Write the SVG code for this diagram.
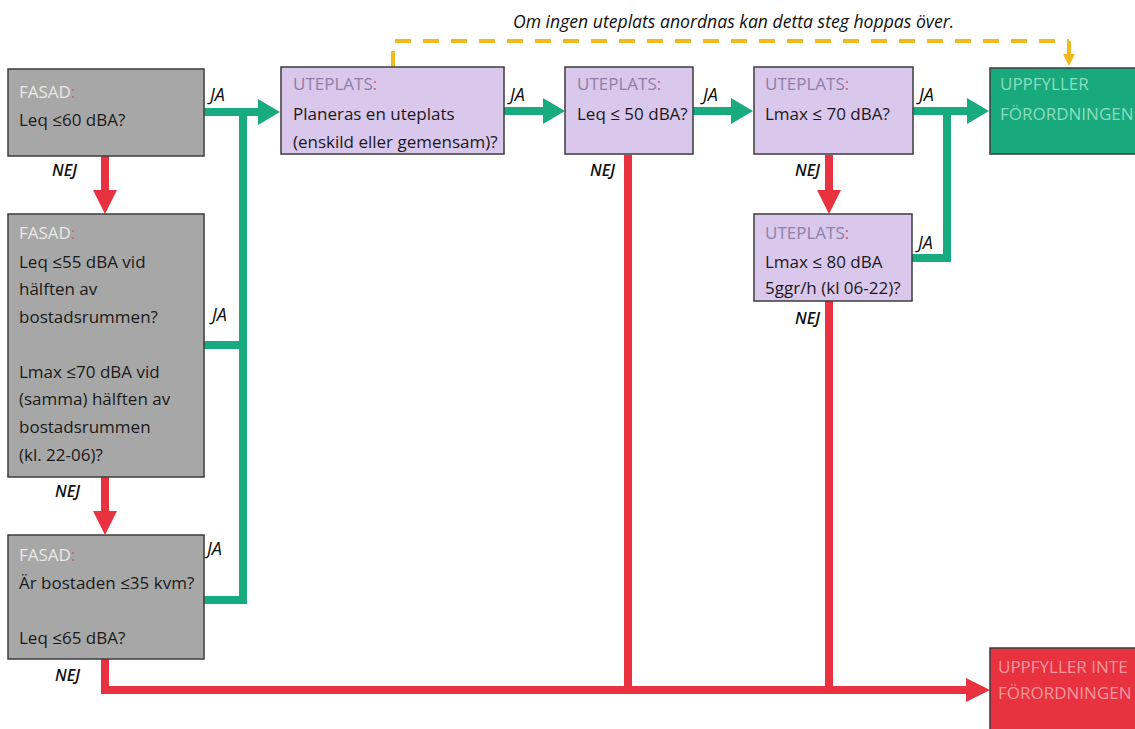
<svg xmlns="http://www.w3.org/2000/svg" width="1135" height="729" viewBox="0 0 1135 729">
<style>
  .t { font-family: "Open Sans", "Noto Sans", sans-serif; font-size: 17px; fill: #1a1a1a; }
  .fas { fill: #a7a7a7; stroke: #3c3c3c; stroke-width: 1.5; }
  .ute { fill: #dac7ec; stroke: #3c3c3c; stroke-width: 1.5; }
  .ok { fill: #18a97d; stroke: #3c3c3c; stroke-width: 1.5; }
  .bad { fill: #e8323f; stroke: #3c3c3c; stroke-width: 1.5; }
  .hf { fill: #e8e8e8; }
  .hu { fill: #8e80a8; }
  .col { fill: #d8586e; }
  .okt { fill: #8bdcbd; }
  .badt { fill: #f4979d; }
  .lab { font-family: "Open Sans", "Noto Sans", sans-serif; font-size: 18px; font-style: italic; fill: #111; }
  .nej { font-size: 16px; font-weight: 600; }
  .note { font-size: 17.6px; }
  .g { fill: none; stroke: #18ab80; stroke-width: 8; }
  .r { fill: none; stroke: #e8323f; stroke-width: 8; }
  .y { fill: none; stroke: #f2b81d; stroke-width: 4; }
</style>
<defs>
  <marker id="ga" viewBox="0 0 22 26" refX="0" refY="13" markerWidth="22" markerHeight="26" markerUnits="userSpaceOnUse" orient="auto">
    <path d="M0,0 L22,13 L0,26 z" fill="#18ab80"/>
  </marker>
  <marker id="ra" viewBox="0 0 24 24" refX="0" refY="12" markerWidth="24" markerHeight="24" markerUnits="userSpaceOnUse" orient="auto">
    <path d="M0,0 L24,12 L0,24 z" fill="#e8323f"/>
  </marker>
  <marker id="ya" viewBox="0 0 12 12" refX="0" refY="6" markerWidth="12" markerHeight="12" markerUnits="userSpaceOnUse" orient="auto">
    <path d="M0,0 L12,6 L0,12 z" fill="#f2b81d"/>
  </marker>
</defs>

<g id="connectors">
  <!-- yellow dashed skip -->
  <path class="y" d="M393,67 V41 H1069" stroke-dasharray="16 12"/>
  <path class="y" d="M1069,41 V54" marker-end="url(#ya)"/>
  <!-- green -->
  <path class="g" d="M204,112 H258" marker-end="url(#ga)"/>
  <path class="g" d="M243,108 V600 H204"/>
  <path class="g" d="M204,345 H247"/>
  <path class="g" d="M504,111 H543" marker-end="url(#ga)"/>
  <path class="g" d="M693,111 H731" marker-end="url(#ga)"/>
  <path class="g" d="M913,111 H967" marker-end="url(#ga)"/>
  <path class="g" d="M912,258 H947 V107"/>
  <!-- red -->
  <path class="r" d="M105,156 V190" marker-end="url(#ra)"/>
  <path class="r" d="M105,477 V511" marker-end="url(#ra)"/>
  <path class="r" d="M829,155 V190" marker-end="url(#ra)"/>
  <path class="r" d="M628,155 V690"/>
  <path class="r" d="M829,301 V690"/>
  <path class="r" d="M105,659 V690 H966" marker-end="url(#ra)"/>
  <!-- labels -->
  <text class="lab" x="210" y="101">JA</text>
  <text class="lab" x="212" y="321">JA</text>
  <text class="lab" x="207" y="555">JA</text>
  <text class="lab" x="510" y="101">JA</text>
  <text class="lab" x="703" y="101">JA</text>
  <text class="lab" x="919" y="101">JA</text>
  <text class="lab" x="918" y="249">JA</text>
  <text class="lab nej" x="52" y="176">NEJ</text>
  <text class="lab nej" x="55" y="497">NEJ</text>
  <text class="lab nej" x="55" y="681">NEJ</text>
  <text class="lab nej" x="590" y="176">NEJ</text>
  <text class="lab nej" x="795" y="176">NEJ</text>
  <text class="lab nej" x="795" y="324">NEJ</text>
  <text class="lab note" x="513" y="28">Om ingen uteplats anordnas kan detta steg hoppas över.</text>
</g>

<g id="fasad1">
  <rect class="fas" x="8" y="69" width="196" height="87"/>
  <text class="t" x="19" y="98"><tspan class="hf">FASAD</tspan><tspan class="col">:</tspan></text>
  <text class="t" x="19" y="126">Leq ≤60 dBA?</text>
</g>

<g id="fasad2">
  <rect class="fas" x="8" y="214" width="196" height="263"/>
  <text class="t" x="19" y="239"><tspan class="hf">FASAD</tspan><tspan class="col">:</tspan></text>
  <text class="t" x="19" y="268">Leq ≤55 dBA vid</text>
  <text class="t" x="19" y="295">hälften av</text>
  <text class="t" x="19" y="323">bostadsrummen?</text>
  <text class="t" x="19" y="378">Lmax ≤70 dBA vid</text>
  <text class="t" x="19" y="405">(samma) hälften av</text>
  <text class="t" x="19" y="433">bostadsrummen</text>
  <text class="t" x="19" y="461">(kl. 22-06)?</text>
</g>

<g id="fasad3">
  <rect class="fas" x="8" y="535" width="196" height="124"/>
  <text class="t" x="19" y="561"><tspan class="hf">FASAD</tspan><tspan class="col">:</tspan></text>
  <text class="t" x="19" y="589">Är bostaden ≤35 kvm?</text>
  <text class="t" x="19" y="644">Leq ≤65 dBA?</text>
</g>

<g id="uteplats1">
  <rect class="ute" x="281" y="67" width="223" height="87"/>
  <text class="t" x="293" y="90"><tspan class="hu">UTEPLATS</tspan><tspan class="col">:</tspan></text>
  <text class="t" x="293" y="120">Planeras en uteplats</text>
  <text class="t" x="293" y="148">(enskild eller gemensam)?</text>
</g>

<g id="uteplats2">
  <rect class="ute" x="565" y="67" width="128" height="87"/>
  <text class="t" x="577" y="90"><tspan class="hu">UTEPLATS</tspan><tspan class="col">:</tspan></text>
  <text class="t" x="577" y="120">Leq ≤ 50 dBA?</text>
</g>

<g id="uteplats3">
  <rect class="ute" x="754" y="67" width="159" height="87"/>
  <text class="t" x="765" y="90"><tspan class="hu">UTEPLATS</tspan><tspan class="col">:</tspan></text>
  <text class="t" x="765" y="120">Lmax ≤ 70 dBA?</text>
</g>

<g id="uteplats4">
  <rect class="ute" x="754" y="214" width="158" height="87"/>
  <text class="t" x="765" y="239"><tspan class="hu">UTEPLATS</tspan><tspan class="col">:</tspan></text>
  <text class="t" x="765" y="268">Lmax ≤ 80 dBA</text>
  <text class="t" x="765" y="294">5ggr/h (kl 06-22)?</text>
</g>

<g id="uppfyller">
  <rect class="ok" x="990" y="68" width="160" height="86"/>
  <text class="t okt" x="1000" y="90">UPPFYLLER</text>
  <text class="t okt" x="1000" y="120">FÖRORDNINGEN</text>
</g>

<g id="uppfyller-inte">
  <rect class="bad" x="990" y="648" width="160" height="90"/>
  <text class="t badt" x="998" y="673">UPPFYLLER INTE</text>
  <text class="t badt" x="998" y="699">FÖRORDNINGEN</text>
</g>
</svg>
